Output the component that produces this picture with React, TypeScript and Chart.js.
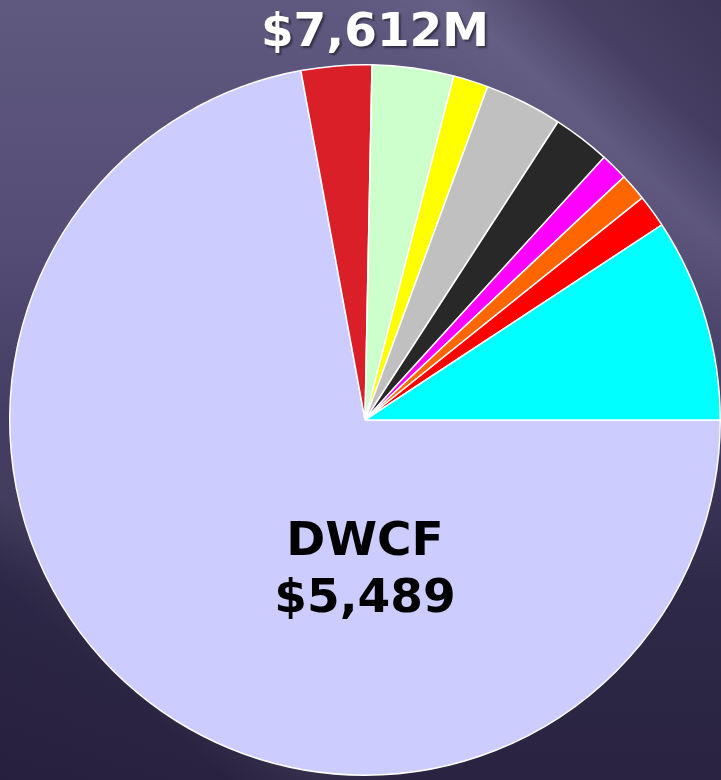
import React, { useEffect, useRef } from "react";
import { Chart, registerables } from "chart.js";

Chart.register(...registerables);

const TITLE = "$7,612M";
const labels = [
  "DWCF",
  "Category 2",
  "Category 3",
  "Category 4",
  "Category 5",
  "Category 6",
  "Category 7",
  "Category 8",
  "Category 9",
  "Category 10",
];
const values = [5489, 244, 282, 121, 269, 199, 95, 95, 114, 704];
const colors = [
  "#CCCCFF",
  "#DA1F28",
  "#CCFFCC",
  "#FFFF00",
  "#C0C0C0",
  "#282828",
  "#FF00FF",
  "#FF6600",
  "#FF0000",
  "#00FFFF",
];
const mainLabel = "DWCF";
const mainValue = "$5,489";

export default function App() {
  const ref = useRef<HTMLCanvasElement>(null);
  useEffect(() => {
    if (!ref.current) return;
    const chart = new Chart(ref.current, {
      type: "pie",
      data: {
        labels,
        datasets: [
          {
            data: values,
            backgroundColor: colors,
            borderColor: "#FFFFFF",
            borderWidth: 1.5,
          },
        ],
      },
      options: {
        responsive: false,
        animation: false,
        devicePixelRatio: 1,
        rotation: 90,
        layout: { padding: { left: 9, right: 19, top: 64, bottom: 4 } },
        plugins: {
          legend: { display: false },
          tooltip: { enabled: false },
          title: { display: false },
        },
      },
    });
    return () => chart.destroy();
  }, []);

  const font = '"DejaVu Sans", Verdana, sans-serif';
  return (
    <div
      style={{
        position: "absolute",
        left: 0,
        top: 0,
        width: 721,
        height: 780,
        overflow: "hidden",
        background:
          "linear-gradient(180deg, #5f587f 0%, #554d76 30%, #463f66 50%, #2f2949 75%, #2a2442 100%)",
      }}
    >
      <div
        style={{
          position: "absolute",
          inset: 0,
          background:
            "linear-gradient(42deg, rgba(0,0,0,0) 76%, rgba(255,255,255,0.05) 83%, rgba(30,24,52,0.35) 90%, rgba(30,24,52,0.55) 100%)",
        }}
      />
      <div
        style={{
          position: "absolute",
          inset: 0,
          background:
            "linear-gradient(42deg, rgba(30,24,52,0.3) 0%, rgba(30,24,52,0.1) 14%, rgba(255,255,255,0.05) 20%, rgba(0,0,0,0) 26%)",
        }}
      />
      <canvas
        ref={ref}
        width={740}
        height={780}
        style={{ position: "absolute", left: 0, top: 0, display: "block" }}
      />
      <div
        style={{
          position: "absolute",
          left: 0,
          top: 6,
          width: 750,
          textAlign: "center",
          fontFamily: font,
          fontWeight: "bold",
          fontSize: 47,
          lineHeight: "47px",
          color: "#FFFFFF",
          textShadow: "2px 2px 2px rgba(0,0,0,0.45)",
          whiteSpace: "nowrap",
        }}
      >
        {TITLE}
      </div>
      <div
        style={{
          position: "absolute",
          left: 0,
          top: 515,
          width: 730,
          textAlign: "center",
          fontFamily: font,
          fontWeight: "bold",
          fontSize: 47,
          color: "#000000",
          whiteSpace: "nowrap",
        }}
      >
        <div style={{ height: 57, lineHeight: "47px" }}>{mainLabel}</div>
        <div style={{ lineHeight: "47px" }}>{mainValue}</div>
      </div>
    </div>
  );
}
